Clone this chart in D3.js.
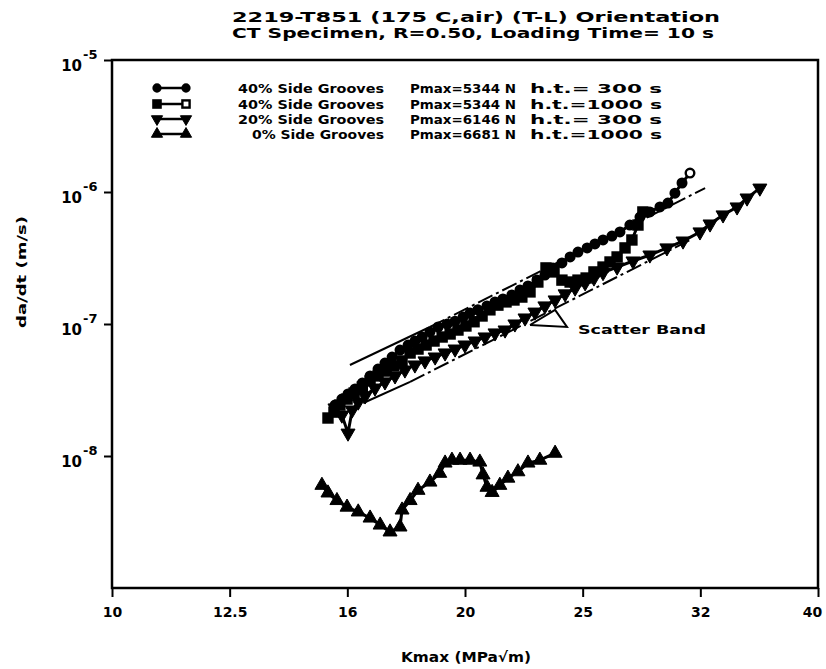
<!DOCTYPE html>
<html>
<head>
<meta charset="utf-8">
<script src="https://cdn.jsdelivr.net/npm/d3@7"></script>
<style>
  body { margin: 0; background: #fff; }
  text { font-family: "DejaVu Sans", sans-serif; font-weight: bold; fill: #000; }
</style>
</head>
<body>
<div id="chart"></div>
<script>
// axis ticks
const xTicks = [10, 12.589, 15.849, 19.953, 25.119, 31.623, 39.811];
const xTickLabels = ["10", "12.5", "16", "20", "25", "32", "40"];
const yTicks = [1e-5, 1e-6, 1e-7, 1e-8];
const yTickExp = ["-5", "-6", "-7", "-8"];

// series: [Kmax (MPa√m), da/dt (m/s)]
const series1 = [ // 40% side grooves, h.t.=300 s (circles)
  [15.47, 2.43e-8], [15.68, 2.70e-8], [15.87, 2.95e-8], [16.09, 3.22e-8], [16.32, 3.57e-8],
  [16.57, 4.04e-8], [16.83, 4.56e-8], [17.06, 5.06e-8], [17.30, 5.62e-8], [17.57, 6.35e-8],
  [17.85, 6.93e-8], [18.09, 7.43e-8], [18.35, 7.97e-8], [18.63, 8.70e-8], [18.93, 9.49e-8],
  [19.27, 1.00e-7], [19.57, 1.05e-7], [19.88, 1.13e-7], [20.15, 1.21e-7], [20.46, 1.28e-7],
  [20.83, 1.37e-7], [21.16, 1.47e-7], [21.49, 1.55e-7], [21.87, 1.66e-7], [22.22, 1.81e-7],
  [22.57, 1.94e-7], [22.97, 2.15e-7], [23.33, 2.35e-7], [23.70, 2.66e-7], [24.12, 2.90e-7],
  [24.51, 3.22e-7], [24.89, 3.51e-7], [25.34, 3.77e-7], [25.73, 4.04e-7], [26.14, 4.33e-7],
  [26.60, 4.64e-7], [27.02, 4.98e-7], [27.55, 5.62e-7], [28.10, 6.46e-7], [28.65, 7.06e-7],
  [29.22, 7.70e-7], [29.68, 8.25e-7], [30.09, 9.80e-7], [30.51, 1.17e-6], [30.99, 1.39e-6]
];
const series2 = [ // 40% side grooves, h.t.=1000 s (squares)
  [15.26, 1.94e-8], [15.44, 2.15e-8], [15.62, 2.43e-8], [15.84, 2.70e-8], [16.06, 3.00e-8],
  [16.32, 3.33e-8], [16.57, 3.70e-8], [16.83, 4.04e-8], [17.10, 4.40e-8], [17.36, 4.81e-8],
  [17.64, 5.25e-8], [17.92, 6.03e-8], [18.20, 6.46e-8], [18.49, 6.93e-8], [18.78, 7.43e-8],
  [19.08, 7.97e-8], [19.38, 8.40e-8], [19.68, 9.00e-8], [19.99, 9.66e-8], [20.31, 1.04e-7],
  [20.63, 1.15e-7], [20.95, 1.28e-7], [21.28, 1.39e-7], [21.62, 1.47e-7], [21.96, 1.52e-7],
  [22.30, 1.60e-7], [22.66, 1.75e-7], [23.01, 2.08e-7], [23.38, 2.66e-7], [23.75, 2.48e-7],
  [24.12, 2.15e-7], [24.51, 2.08e-7], [24.89, 2.15e-7], [25.29, 2.23e-7], [25.68, 2.48e-7],
  [26.14, 2.70e-7], [26.50, 2.95e-7], [26.87, 3.22e-7], [27.29, 3.77e-7], [27.66, 4.33e-7],
  [27.99, 5.62e-7], [28.26, 7.06e-7]
];
const series3 = [ // 20% side grooves, h.t.=300 s (down triangles)
  [15.47, 2.31e-8], [15.68, 2.04e-8], [15.87, 1.49e-8], [16.00, 2.23e-8], [16.19, 2.56e-8],
  [16.41, 2.85e-8], [16.73, 3.27e-8], [17.06, 3.64e-8], [17.40, 4.04e-8], [17.74, 4.48e-8],
  [18.09, 4.89e-8], [18.45, 5.25e-8], [18.82, 5.62e-8], [19.19, 6.03e-8], [19.57, 6.46e-8],
  [19.95, 6.93e-8], [20.35, 7.43e-8], [20.75, 7.97e-8], [21.16, 8.55e-8], [21.58, 9.00e-8],
  [22.00, 1.00e-7], [22.44, 1.11e-7], [22.88, 1.23e-7], [23.33, 1.37e-7], [23.80, 1.52e-7],
  [24.27, 1.69e-7], [24.75, 1.87e-7], [25.24, 2.05e-7], [25.68, 2.23e-7], [26.14, 2.45e-7],
  [26.87, 2.70e-7], [27.72, 3.00e-7], [28.65, 3.33e-7], [29.62, 3.77e-7], [30.57, 4.25e-7],
  [31.60, 4.98e-7], [32.23, 5.72e-7], [33.06, 6.70e-7], [33.98, 7.70e-7], [34.65, 9.00e-7],
  [35.53, 1.07e-6]
];
const series4 = [ // 0% side grooves, h.t.=1000 s (up triangles)
  [15.08, 6.0e-9], [15.26, 5.25e-9], [15.53, 4.6e-9], [15.84, 4.1e-9], [16.19, 3.77e-9],
  [16.57, 3.39e-9], [16.90, 3.0e-9], [17.23, 2.66e-9], [17.57, 2.9e-9], [17.64, 3.9e-9],
  [17.92, 4.6e-9], [18.20, 5.5e-9], [18.63, 6.35e-9], [18.99, 7.4e-9], [19.19, 8.85e-9],
  [19.45, 9.3e-9], [19.76, 9.3e-9], [20.15, 9.3e-9], [20.54, 9.0e-9], [20.67, 7.2e-9],
  [20.83, 5.8e-9], [21.04, 5.3e-9], [21.36, 6.0e-9], [21.70, 6.8e-9], [22.13, 7.6e-9],
  [22.57, 8.85e-9], [23.10, 9.3e-9], [23.80, 1.05e-8]
];

// scatter band lines and pointer
const bandUpperSolid = [[15.93, 4.89e-8], [18.63, 9.49e-8]];
const bandUpperDash = [[18.63, 9.49e-8], [31.92, 1.07e-6]];
const bandLowerSolid = [[16.35, 2.52e-8], [17.92, 3.64e-8]];
const bandLowerDash = [[17.92, 3.64e-8], [30.99, 4.33e-7]];
const pointer = [[22.66, 9.83e-8], [23.80, 1.28e-7], [24.36, 9.49e-8], [22.66, 9.83e-8]];

const legendRows = [
  { label: "40% Side Grooves", pmax: "Pmax=5344 N", ht: "h.t.= 300 s", shape: "circle" },
  { label: "40% Side Grooves", pmax: "Pmax=5344 N", ht: "h.t.=1000 s", shape: "square" },
  { label: "20% Side Grooves", pmax: "Pmax=6146 N", ht: "h.t.= 300 s", shape: "down" },
  { label: "0% Side Grooves", pmax: "Pmax=6681 N", ht: "h.t.=1000 s", shape: "up" }
];

const width = 826, height = 669;
const plotLeft = 112, plotRight = 818, plotTop = 60, plotBottom = 588;

const svg = d3.select("#chart").append("svg")
  .attr("width", width)
  .attr("height", height);

const x = d3.scaleLog().domain([10, 39.811]).range([plotLeft, plotRight]);
const y = d3.scaleLog().domain([1e-9, 1e-5]).range([plotBottom, plotTop]);

// title
svg.append("text").attr("x", 232).attr("y", 22).attr("font-size", 14)
  .attr("textLength", 488).attr("lengthAdjust", "spacingAndGlyphs")
  .text("2219-T851 (175 C,air) (T-L) Orientation");
svg.append("text").attr("x", 232).attr("y", 38).attr("font-size", 14)
  .attr("textLength", 482).attr("lengthAdjust", "spacingAndGlyphs")
  .text("CT Specimen, R=0.50, Loading Time= 10 s");

// frame
svg.append("rect")
  .attr("x", plotLeft).attr("y", plotTop)
  .attr("width", plotRight - plotLeft).attr("height", plotBottom - plotTop)
  .attr("fill", "none").attr("stroke", "#000").attr("stroke-width", 2.5);

// x axis
const xAxis = svg.append("g")
  .attr("transform", `translate(0,${plotBottom})`)
  .call(d3.axisBottom(x).tickValues(xTicks).tickFormat((d, i) => xTickLabels[i]).tickSize(9).tickPadding(10));
xAxis.select(".domain").remove();
xAxis.selectAll("line").attr("stroke-width", 2);
xAxis.selectAll("text").attr("font-size", 14).attr("font-family", "DejaVu Sans").attr("font-weight", "bold")
  .attr("dx", (d, i) => i === xTicks.length - 1 ? -6 : 0);

// y axis
const yAxis = svg.append("g")
  .attr("transform", `translate(${plotLeft},0)`)
  .call(d3.axisLeft(y).tickValues(yTicks).tickFormat("").tickSize(8));
yAxis.select(".domain").remove();
yAxis.selectAll("line").attr("stroke-width", 2);
yTicks.forEach((t, i) => {
  const ty = y(t);
  svg.append("text").attr("x", 82).attr("y", ty + 11).attr("text-anchor", "end")
    .attr("font-size", 15).text("10");
  svg.append("text").attr("x", 83).attr("y", ty - 1).attr("font-size", 13)
    .text(yTickExp[i]);
});

// axis titles
svg.append("text")
  .attr("transform", "translate(26,272) rotate(-90)")
  .attr("text-anchor", "middle").attr("font-size", 13)
  .attr("textLength", 112).attr("lengthAdjust", "spacingAndGlyphs")
  .text("da/dt (m/s)");
svg.append("text").attr("x", 466).attr("y", 662).attr("text-anchor", "middle")
  .attr("font-size", 14)
  .attr("textLength", 130).attr("lengthAdjust", "spacingAndGlyphs")
  .text("Kmax  (MPa√m)");

const line = d3.line().x(d => x(d[0])).y(d => y(d[1]));

// scatter band
[[bandUpperSolid, null], [bandUpperDash, "16,4,3,4"], [bandLowerSolid, null], [bandLowerDash, "16,4,3,4"]]
  .forEach(([pts, dash]) => {
    svg.append("path").datum(pts).attr("d", line)
      .attr("fill", "none").attr("stroke", "#000").attr("stroke-width", 2)
      .attr("stroke-dasharray", dash);
  });
svg.append("path").datum(pointer).attr("d", line)
  .attr("fill", "none").attr("stroke", "#000").attr("stroke-width", 2);
svg.append("text").attr("x", 578).attr("y", 334).attr("font-size", 13)
  .attr("textLength", 128).attr("lengthAdjust", "spacingAndGlyphs")
  .text("Scatter Band");

// markers
function drawMarker(g, shape, px, py, open, k = 1) {
  if (shape === "circle") {
    g.append("circle").attr("cx", px).attr("cy", py).attr("r", 4.3 * k)
      .attr("fill", open ? "#fff" : "#000").attr("stroke", "#000").attr("stroke-width", 2.4);
  } else if (shape === "square") {
    const s = 9 * k;
    g.append("rect").attr("x", px - s / 2).attr("y", py - s / 2).attr("width", s).attr("height", s)
      .attr("fill", open ? "#fff" : "#000").attr("stroke", "#000").attr("stroke-width", 2.4);
  } else {
    g.append("path")
      .attr("d", d3.symbol(d3.symbolTriangle, 85 * k * k)())
      .attr("transform", `translate(${px},${py})` + (shape === "down" ? " rotate(180)" : ""))
      .attr("fill", "#000").attr("stroke", "#000").attr("stroke-width", 1);
  }
}

const allSeries = [[series1, "circle"], [series2, "square"], [series3, "down"], [series4, "up"]];
allSeries.forEach(([data, shape]) => {
  const g = svg.append("g");
  g.append("path").datum(data).attr("d", line)
    .attr("fill", "none").attr("stroke", "#000").attr("stroke-width", 3);
  data.forEach((d, i) => {
    const last = i === data.length - 1;
    drawMarker(g, shape, x(d[0]), y(d[1]), shape === "circle" && last);
  });
});

// legend
const rowY = [88, 104, 119, 134];
legendRows.forEach((r, i) => {
  const g = svg.append("g");
  const ly = rowY[i];
  g.append("line").attr("x1", 157).attr("x2", 186).attr("y1", ly).attr("y2", ly)
    .attr("stroke", "#000").attr("stroke-width", 2.5);
  drawMarker(g, r.shape, 157, ly, false, 0.8);
  drawMarker(g, r.shape, 186, ly, r.shape === "square", 0.8);
  g.append("text").attr("x", 384).attr("y", ly + 5).attr("text-anchor", "end")
    .attr("font-size", 13)
    .attr("textLength", i === 3 ? 132 : 146).attr("lengthAdjust", "spacingAndGlyphs")
    .text(r.label);
  g.append("text").attr("x", 410).attr("y", ly + 5).attr("font-size", 13)
    .attr("textLength", 106).attr("lengthAdjust", "spacingAndGlyphs")
    .text(r.pmax);
  g.append("text").attr("x", 530).attr("y", ly + 5).attr("font-size", 13)
    .attr("textLength", 132).attr("lengthAdjust", "spacingAndGlyphs")
    .text(r.ht);
});
</script>
</body>
</html>
